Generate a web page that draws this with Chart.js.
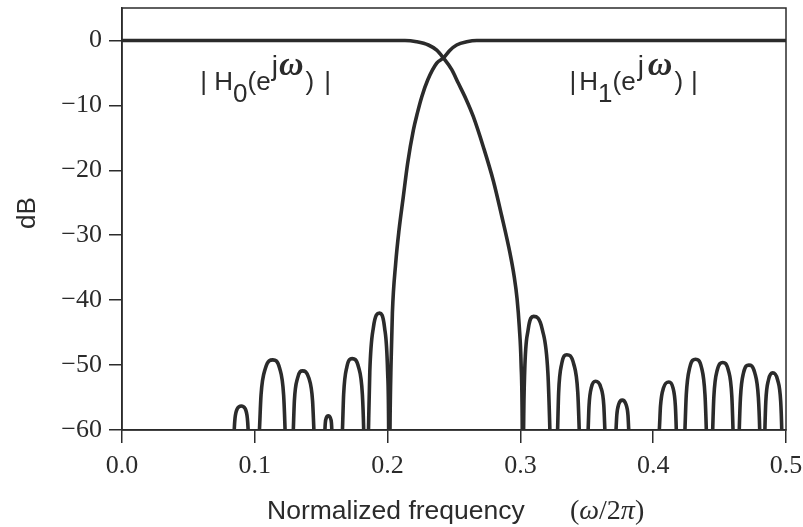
<!DOCTYPE html>
<html>
<head>
<meta charset="utf-8">
<script src="https://cdn.jsdelivr.net/npm/chart.js@4.4.1/dist/chart.umd.min.js"></script>
<style>
  html, body { margin: 0; padding: 0; background: #fff; }
</style>
</head>
<body>
<canvas id="filterChart" width="803" height="527"></canvas>
<script>
// |H0| lowpass response, dB (values below -60 are cut off by the plot)
const h0Freq = [0, 0.2131, 0.2219, 0.2307, 0.2370, 0.2420, 0.2483, 0.2533, 0.2590, 0.2645, 0.2721, 0.2796,
    0.2859, 0.2922, 0.2952, 0.2975, 0.2992, 0.3005, 0.3014, 0.3018,
    0.3024, 0.3032, 0.3058, 0.3099, 0.3166, 0.3207, 0.3222, 0.3245,
    0.3280, 0.3288, 0.3311, 0.3349, 0.3401, 0.3432, 0.3443, 0.3470,
    0.3510, 0.3517, 0.3535, 0.3566, 0.3605, 0.3628, 0.3636, 0.3670,
    0.3720, 0.3726, 0.3741, 0.3767, 0.3794, 0.3810, 0.3816, 0.3930,
    0.4046, 0.4055, 0.4078, 0.4118, 0.4149, 0.4167, 0.4174, 0.4200,
    0.4239, 0.4249, 0.4275, 0.4319, 0.4364, 0.4390, 0.4400, 0.4424,
    0.4448, 0.4457, 0.4482, 0.4524, 0.4566, 0.4592, 0.4601, 0.4624,
    0.4648, 0.4657, 0.4680, 0.4720, 0.4765, 0.4792, 0.4802, 0.4820,
    0.4841, 0.4848, 0.4868, 0.4900, 0.4937, 0.4960, 0.4968, 0.4985, 0.5];
const h0Db = [0, 0, -0.2, -0.7, -1.5, -2.7, -4.5, -6.6, -9.0, -11.7, -16.4, -21.6,
    -27.0, -32.8, -36.2, -39.8, -44.2, -49.7, -60, -80,
    -60, -51.2, -44.6, -42.5, -44.6, -51.2, -60, -80,
    -60, -54.2, -49.8, -48.4, -49.8, -54.2, -60, -80,
    -60, -56.2, -53.4, -52.5, -53.4, -56.2, -60, -80,
    -60, -57.7, -56.0, -55.4, -56.0, -57.7, -60, -80,
    -60, -56.3, -53.5, -52.6, -53.5, -56.3, -60, -80,
    -60, -54.6, -50.4, -49.1, -50.4, -54.6, -60, -80,
    -60, -54.8, -50.8, -49.6, -50.8, -54.8, -60, -80,
    -60, -55.0, -51.2, -50.0, -51.2, -55.0, -60, -80,
    -60, -55.6, -52.3, -51.2, -52.3, -55.6, -60, -80, -80];

// |H1| highpass response, dB
const h1Freq = [0, 0.0810,
    0.0845, 0.0851, 0.0869, 0.0898, 0.0927, 0.0944, 0.0950, 0.0985,
    0.1035, 0.1047, 0.1080, 0.1136, 0.1187, 0.1217, 0.1228, 0.1255,
    0.1290, 0.1298, 0.1322, 0.1360, 0.1407, 0.1435, 0.1445, 0.1485,
    0.1528, 0.1531, 0.1539, 0.1553, 0.1568, 0.1577, 0.1580, 0.1615,
    0.1660, 0.1669, 0.1693, 0.1733, 0.1781, 0.1810, 0.1820, 0.1838,
    0.1856, 0.1866, 0.1893, 0.1939, 0.1977, 0.2000, 0.2008, 0.2012,
    0.2018, 0.2026, 0.2036, 0.2061, 0.2086, 0.2118, 0.2151, 0.2194, 0.2224, 0.2257, 0.2302,
    0.2370, 0.2420, 0.2470, 0.2520, 0.2596, 0.2671, 0.5];
const h1Db = [-80, -80,
    -60, -58.2, -56.7, -56.3, -56.7, -58.2, -60, -80,
    -60, -54.6, -50.5, -49.2, -50.5, -54.6, -60, -80,
    -60, -55.5, -52.0, -50.9, -52.0, -55.5, -60, -80,
    -60, -58.9, -58.1, -57.8, -58.1, -58.9, -60, -80,
    -60, -54.5, -50.3, -49.0, -50.3, -54.5, -60, -80,
    -60, -51.0, -44.2, -42.0, -44.2, -51.0, -60, -80,
    -60, -49.7, -42.0, -34.3, -29.2, -24.1, -18.9, -13.8, -11.2, -8.7, -6.1,
    -3.5, -2.7, -1.5, -0.7, -0.2, 0, 0];

const xTicks = [0, 0.1, 0.2, 0.3, 0.4, 0.5];
const yTicks = [0, -10, -20, -30, -40, -50, -60];

const ink = '#2b2b2b';
const sans = 'Liberation Sans, Arial, sans-serif';
const serif = 'Liberation Serif, Times New Roman, serif';

function toPoints(xs, ys) {
    return xs.map((v, i) => ({ x: v, y: ys[i] }));
}

function drawParts(ctx, x, y, parts) {
    parts.forEach(p => {
        x += p.dx || 0;
        ctx.font = p.font || ('26px ' + sans);
        ctx.fillText(p.t, x, y + (p.dy || 0));
        x += ctx.measureText(p.t).width;
    });
}

const omegaFont = 'bold italic 34px ' + serif;
const supFont = '28px ' + sans;

const decorations = {
    id: 'decorations',
    afterDraw(chart) {
        const { ctx, chartArea: a, scales } = chart;
        ctx.save();
        // frame around the plot
        ctx.strokeStyle = ink;
        ctx.lineWidth = 1.5;
        ctx.strokeRect(a.left, a.top, a.right - a.left, a.bottom - a.top);

        ctx.fillStyle = ink;
        ctx.textAlign = 'left';
        ctx.textBaseline = 'alphabetic';

        // filter labels
        const base = scales.y.getPixelForValue(-7.7);
        drawParts(ctx, scales.x.getPixelForValue(0.0590), base, [
            { t: '|' }, { t: ' H' }, { t: '0', dy: 12 }, { t: '(e' },
            { t: 'j', dx: 1, dy: -15, font: supFont }, { t: 'ω', dx: 1, dy: -15, font: omegaFont },
            { t: ')', dx: 2 }, { t: '|', dx: 10 }
        ]);
        drawParts(ctx, scales.x.getPixelForValue(0.3370), base, [
            { t: '|' }, { t: 'H', dx: 3 }, { t: '1', dy: 12 }, { t: '(e' },
            { t: 'j', dx: 2, dy: -15, font: supFont }, { t: 'ω', dx: 4, dy: -15, font: omegaFont },
            { t: ')', dx: 2 }, { t: '|', dx: 8 }
        ]);

        // x axis title
        drawParts(ctx, a.left + 145, 519, [{ t: 'Normalized frequency', font: '26.5px ' + sans }]);
        drawParts(ctx, a.left + 448, 519, [
            { t: '(', font: '28px ' + serif },
            { t: 'ω', font: 'italic 28px ' + serif },
            { t: '/2', font: '28px ' + serif },
            { t: 'π', font: 'italic 28px ' + serif },
            { t: ')', font: '28px ' + serif }
        ]);

        // y axis title
        ctx.translate(28, (a.top + a.bottom) / 2 - 6);
        ctx.rotate(-Math.PI / 2);
        ctx.textAlign = 'center';
        ctx.textBaseline = 'middle';
        ctx.font = '26px ' + sans;
        ctx.fillText('dB', 0, 0);
        ctx.restore();
    }
};

const lineStyle = {
    borderColor: ink,
    borderWidth: 3.6,
    pointRadius: 0,
    cubicInterpolationMode: 'monotone',
    borderJoinStyle: 'round',
    borderCapStyle: 'round',
    clip: 0,
    fill: false
};

new Chart(document.getElementById('filterChart'), {
    type: 'line',
    data: {
        datasets: [
            Object.assign({ label: 'H0', data: toPoints(h0Freq, h0Db) }, lineStyle),
            Object.assign({ label: 'H1', data: toPoints(h1Freq, h1Db) }, lineStyle)
        ]
    },
    options: {
        responsive: false,
        devicePixelRatio: 1,
        animation: false,
        layout: { padding: { top: 8, right: 17, bottom: 0, left: 0 } },
        plugins: {
            legend: { display: false },
            tooltip: { enabled: false }
        },
        scales: {
            x: {
                type: 'linear',
                min: 0,
                max: 0.5,
                afterBuildTicks: s => { s.ticks = xTicks.map(v => ({ value: v })); },
                afterFit: s => { s.height = 97; s.paddingLeft = 0; s.paddingRight = 0; },
                ticks: {
                    callback: v => v.toFixed(1),
                    color: ink,
                    font: { family: serif, size: 26 },
                    padding: 8,
                    maxRotation: 0
                },
                grid: { drawOnChartArea: false, drawTicks: true, tickLength: 13, color: ink, lineWidth: 1.5 },
                border: { display: true, color: ink, width: 1.5 }
            },
            y: {
                type: 'linear',
                min: -60,
                max: 5,
                afterBuildTicks: s => { s.ticks = yTicks.map(v => ({ value: v })); },
                afterFit: s => { s.width = 122; s.paddingTop = 0; s.paddingBottom = 0; },
                ticks: {
                    callback: v => v === 0 ? '0' : '\u2212' + Math.abs(v),
                    color: ink,
                    font: { family: serif, size: 26 },
                    padding: 7
                },
                grid: { drawOnChartArea: false, drawTicks: true, tickLength: 13, color: ink, lineWidth: 1.5 },
                border: { display: true, color: ink, width: 1.5 }
            }
        }
    },
    plugins: [decorations]
});
</script>
</body>
</html>
